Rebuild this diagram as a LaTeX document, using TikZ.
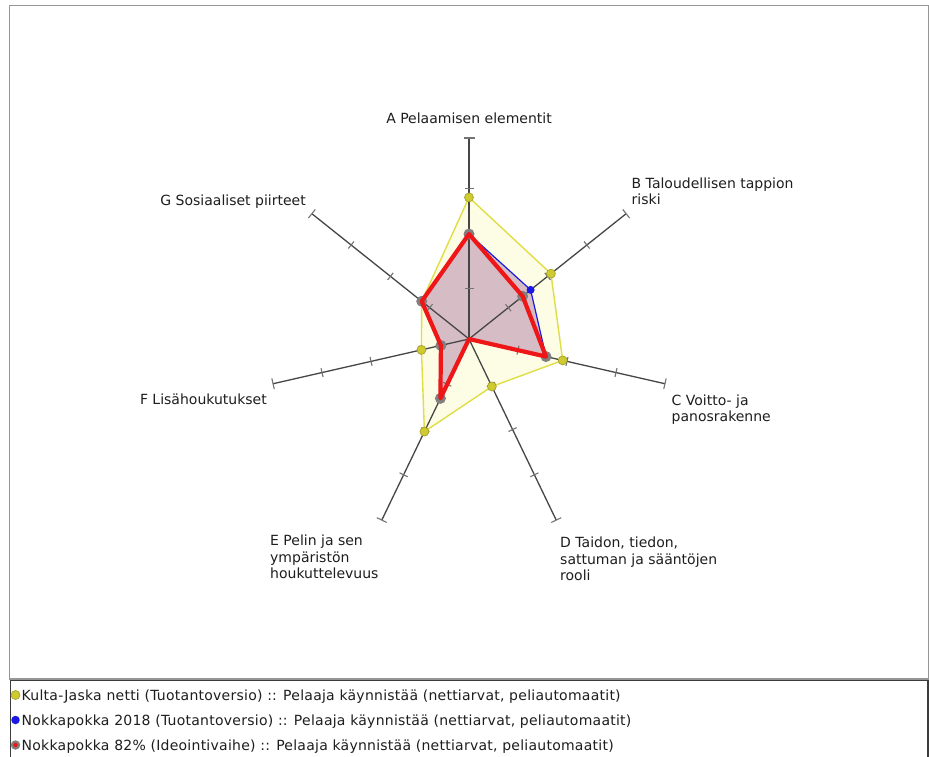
\documentclass[tikz,border=0pt]{standalone}
\usepackage{fontspec}
\setmainfont{DejaVu Sans}
\newfontfamily\legfont[LetterSpace=1.8]{DejaVu Sans}
\usetikzlibrary{calc}
\definecolor{framegray}{RGB}{150,150,150}
\definecolor{legendgray}{RGB}{60,60,60}
\definecolor{axisgray}{RGB}{70,70,70}
\definecolor{tickgray}{RGB}{115,115,115}
\definecolor{yfill}{RGB}{253,252,228}
\definecolor{yline}{RGB}{224,222,70}
\definecolor{ymarkfill}{RGB}{206,202,48}
\definecolor{ymarkdraw}{RGB}{160,155,40}
\definecolor{mauve}{RGB}{214,188,197}
\definecolor{bline}{RGB}{25,25,225}
\definecolor{rline}{RGB}{238,22,22}
\definecolor{gmark}{RGB}{128,128,128}
\definecolor{txt}{RGB}{30,30,30}
\tikzset{
  axisline/.style={draw=axisgray, line width=1.3pt},
  tickmark/.style={draw=tickgray, line width=1.1pt},
  lbl/.style={font=\fontsize{14}{16.5}\selectfont, inner sep=0pt, align=left, text=txt},
  legtext/.style={font=\legfont\fontsize{14}{16.5}\selectfont, inner sep=0pt, text=txt},
  ymark/.style={circle, fill=ymarkfill, draw=ymarkdraw, line width=0.6pt, inner sep=0pt, minimum size=9pt},
  bmark/.style={circle, fill=bline, inner sep=0pt, minimum size=8pt},
  gmarkst/.style={circle, fill=gmark, inner sep=0pt, minimum size=11pt},
  rdot/.style={circle, fill=rline, inner sep=0pt, minimum size=4.5pt},
}
\begin{document}
\begin{tikzpicture}[x=1pt,y=-1pt]
\useasboundingbox (0,0) rectangle (929,756);
\fill[white] (0,0) rectangle (929,756);
\draw[framegray, line width=1.3pt] (9.5,5.5) rectangle (928.5,679);
\draw[legendgray, line width=1.3pt] (10.3,680.7) rectangle (928,790);

\begin{scope}[shift={(469,339)}]
  \coordinate (O) at (0pt,0pt);
  \foreach \n/\a/\ry/\rr/\rb in {A/90/141.6/105/105, B/38.5714/104.8/68.6/78.8, C/-12.8571/96.1/79/79, D/-64.2857/52.7/0/0, E/-115.7143/102.8/65.9/65.9, F/-167.1429/48.8/28.8/28.8, G/141.4286/60.5/60.5/60.5} {
    \coordinate (e\n) at (\a:201pt);
    \coordinate (y\n) at (\a:\ry pt);
    \coordinate (r\n) at (\a:\rr pt);
    \coordinate (b\n) at (\a:\rb pt);
  }
  % fills
  \fill[yfill] (yA) -- (yB) -- (yC) -- (yD) -- (yE) -- (yF) -- (yG) -- cycle;
  \fill[mauve] (bA) -- (bB) -- (bC) -- (bD) -- (bE) -- (bF) -- (bG) -- cycle;
  % axes
  \foreach \n/\a in {A/90, B/38.5714, C/-12.8571, D/-64.2857, E/-115.7143, F/-167.1429, G/141.4286} {
    \draw[axisline] (O) -- (e\n);
    \begin{scope}[rotate=\a]
      \foreach \r in {50.25,100.5,150.75} \draw[tickmark] (\r pt,-4.5pt) -- (\r pt,4.5pt);
      \draw[tickmark] (201pt,-5.5pt) -- (201pt,5.5pt);
    \end{scope}
  }
  % yellow series
  \draw[yline, line width=1.4pt, line join=round] (yA) -- (yB) -- (yC) -- (yD) -- (yE) -- (yF) -- (yG) -- cycle;
  \foreach \n in {A,B,C,D,E,F,G} \node[ymark] (my\n) at (y\n) {};
  % blue series
  \draw[bline, line width=1.2pt, line join=round] (bA) -- (bB) -- (bC) -- (bD) -- (bE) -- (bF) -- (bG) -- cycle;
  \foreach \n in {A,B,C,E,F,G} \node[bmark] (mb\n) at (b\n) {};
  % red series markers
  \foreach \n in {A,B,C,E,F,G} \node[gmarkst] (mr\n) at (r\n) {};
  \draw[rline, line width=4.2pt, line join=round] (rA) -- (rB) -- (rC) -- (rD) -- (rE) -- (rF) -- (rG) -- cycle;
\end{scope}

% axis labels
\node[lbl, anchor=base] (labA) at (469,123) {A Pelaamisen elementit};
\node[lbl, anchor=north west] (labB) at (631.5,177.5) {B Taloudellisen tappion\\riski};
\node[lbl, anchor=north west] (labC) at (671.5,394.5) {C Voitto- ja\\panosrakenne};
\node[lbl, anchor=north west] (labD) at (560,537) {D Taidon, tiedon,\\sattuman ja sääntöjen\\rooli};
\node[lbl, anchor=north west] (labE) at (270,535) {E Pelin ja sen\\ympäristön\\houkuttelevuus};
\node[lbl, anchor=base east] (labF) at (267,404.5) {F Lisähoukutukset};
\node[lbl, anchor=base east] (labG) at (306,205.5) {G Sosiaaliset piirteet};

% legend
\node[ymark] (leg1m) at (15.5,695) {};
\node[legtext, anchor=base west] (leg1t) at (21.5,700) {Kulta-Jaska netti (Tuotantoversio) :: Pelaaja käynnistää (nettiarvat, peliautomaatit)};
\node[bmark, minimum size=8.5pt] (leg2m) at (15.5,720) {};
\node[legtext, anchor=base west] (leg2t) at (21.5,725) {Nokkapokka 2018 (Tuotantoversio) :: Pelaaja käynnistää (nettiarvat, peliautomaatit)};
\node[gmarkst, minimum size=9.5pt] (leg3m) at (15.5,745) {};
\node[rdot] (leg3d) at (15.5,745) {};
\node[legtext, anchor=base west] (leg3t) at (21.5,750) {Nokkapokka 82\% (Ideointivaihe) :: Pelaaja käynnistää (nettiarvat, peliautomaatit)};
\end{tikzpicture}
\end{document}
